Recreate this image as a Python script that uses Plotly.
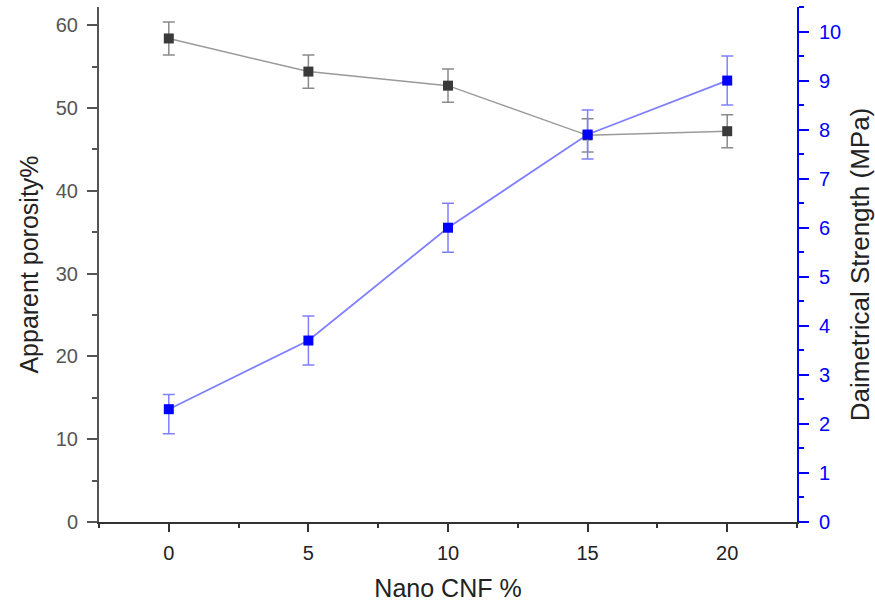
import plotly.graph_objects as go

cnf = [0, 5, 10, 15, 20]
porosity = [58.4, 54.4, 52.7, 46.7, 47.2]
porosity_err = [2.0, 2.0, 2.0, 2.0, 2.0]
strength = [2.3, 3.7, 6.0, 7.9, 9.0]
strength_err_plus = [0.3, 0.5, 0.5, 0.5, 0.5]
strength_err_minus = [0.5, 0.5, 0.5, 0.5, 0.5]

FONT = "Liberation Sans, Arial, sans-serif"
BLUE = "#0000ff"

fig = go.Figure()
fig.add_trace(go.Scatter(
    x=cnf, y=porosity, mode="lines+markers",
    line=dict(color="#9a9a9a", width=1.5),
    marker=dict(symbol="square", size=10, color="#3a3a3a"),
    error_y=dict(type="data", array=porosity_err, color="#8a8a8a", thickness=1.5, width=6),
    yaxis="y", showlegend=False))
fig.add_trace(go.Scatter(
    x=cnf, y=strength, mode="lines+markers",
    line=dict(color="#8080ff", width=1.8),
    marker=dict(symbol="square", size=10, color=BLUE),
    error_y=dict(type="data", symmetric=False, array=strength_err_plus,
                 arrayminus=strength_err_minus, color="#8080ff", thickness=1.5, width=6),
    yaxis="y2", showlegend=False))

fig.update_layout(
    width=875, height=602,
    margin=dict(l=99, r=78, t=7, b=80, autoexpand=False),
    paper_bgcolor="white", plot_bgcolor="white",
    font=dict(family=FONT, size=19, color="#222"),
    xaxis=dict(range=[-2.5, 22.5], tickmode="linear", tick0=0, dtick=5, automargin=False,
               showgrid=False, zeroline=False, showline=True, linecolor="#333", linewidth=2,
               ticks="outside", ticklen=8, tickwidth=2, tickcolor="#333",
               tickfont=dict(size=20, color="#222"), ticklabelstandoff=4,
               minor=dict(ticks="outside", dtick=2.5, tick0=0, ticklen=4, tickwidth=2, tickcolor="#333"),
               title=dict(text="Nano CNF %", font=dict(size=25, color="#222"), standoff=20)),
    xaxis2=dict(range=[-2.5, 22.5], overlaying="x", side="top", tickmode="linear", tick0=0, dtick=5,
                automargin=False,
                showgrid=False, zeroline=False, showline=True, linecolor="#333", linewidth=2,
                ticks="inside", ticklen=8, tickwidth=2, tickcolor="#333", showticklabels=False,
                minor=dict(ticks="inside", dtick=2.5, tick0=0, ticklen=4, tickwidth=2, tickcolor="#333")),
    yaxis=dict(range=[0, 62.2], tickmode="linear", tick0=0, dtick=10, automargin=False,
               showgrid=False, zeroline=False, showline=True, linecolor="#555", linewidth=2,
               ticks="outside", ticklen=10, tickwidth=2, tickcolor="#555",
               tickfont=dict(size=20, color="#555"), ticklabelstandoff=5,
               minor=dict(ticks="outside", dtick=5, tick0=0, ticklen=5, tickwidth=2, tickcolor="#555"),
               title=dict(text="Apparent porosity%", font=dict(size=25, color="#222"), standoff=10)),
    yaxis2=dict(range=[0, 10.5], overlaying="y", side="right", tickmode="linear", tick0=0, dtick=1,
                automargin=False,
                showgrid=False, zeroline=False, showline=True, linecolor=BLUE, linewidth=2,
                ticks="outside", ticklen=10, tickwidth=2, tickcolor=BLUE,
                tickfont=dict(size=20, color=BLUE), ticklabelstandoff=6,
                minor=dict(ticks="outside", dtick=0.5, tick0=0, ticklen=5, tickwidth=2, tickcolor=BLUE),
                title=dict(text="Daimetrical Strength (MPa)", font=dict(size=26, color="#222"), standoff=12)),
)

fig.write_html("out.html", config={"displayModeBar": False},
               post_script="document.body.style.margin='0';")
